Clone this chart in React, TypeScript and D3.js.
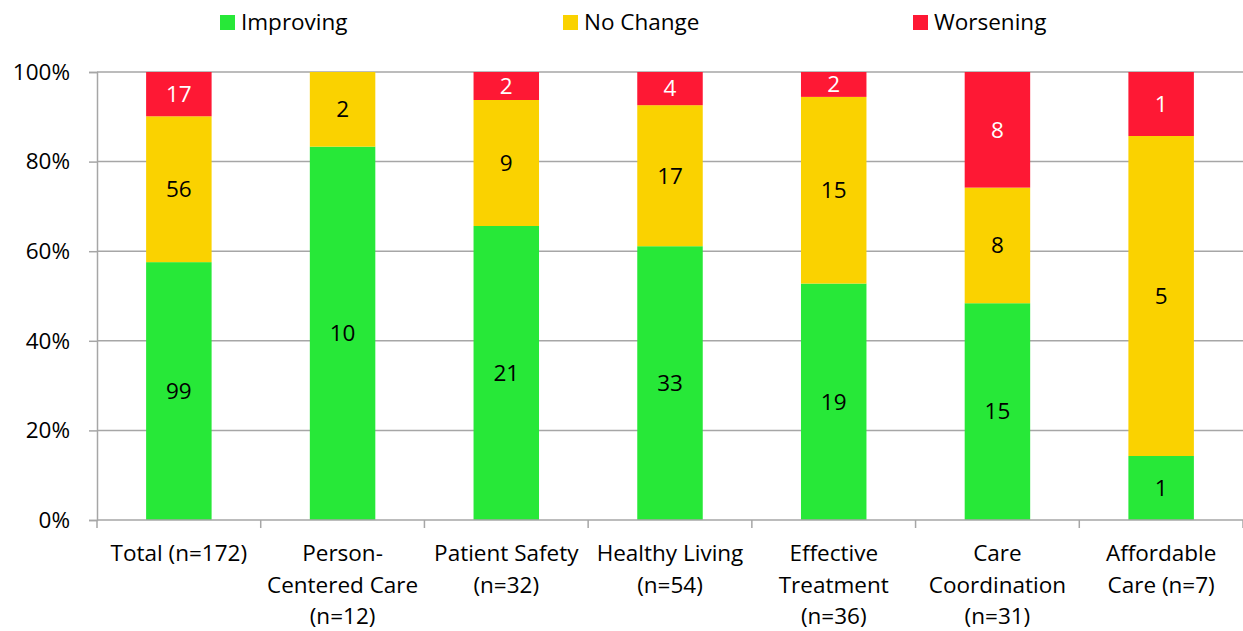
import React, { useEffect, useRef } from "react";
import * as d3 from "d3";

const categories = [
  "Total (n=172)",
  "Person-|Centered Care|(n=12)",
  "Patient Safety|(n=32)",
  "Healthy Living|(n=54)",
  "Effective|Treatment|(n=36)",
  "Care|Coordination|(n=31)",
  "Affordable|Care (n=7)",
];
const improving = [99, 10, 21, 33, 19, 15, 1];
const noChange = [56, 2, 9, 17, 15, 8, 5];
const worsening = [17, 0, 2, 4, 2, 8, 1];
const seriesNames = ["Improving", "No Change", "Worsening"];
const yTicks = [0, 0.2, 0.4, 0.6, 0.8, 1];

const colors = ["#27E838", "#FAD200", "#FE1834"];
const labelColors = ["#000", "#000", "#fff"];
const FONT = "'Open Sans', sans-serif";
const FS = 22.5;

export default function App() {
  const ref = useRef<SVGSVGElement>(null);

  useEffect(() => {
    const width = 1243;
    const height = 631;
    const margin = { top: 72, right: 0, bottom: 111, left: 97 };
    const innerHeight = height - margin.top - margin.bottom;

    const svg = d3.select(ref.current);
    svg.selectAll("*").remove();

    const rows = categories.map((c, i) => ({
      cat: c,
      Improving: improving[i],
      "No Change": noChange[i],
      Worsening: worsening[i],
    }));
    const stacked = d3.stack<any>().keys(seriesNames).offset(d3.stackOffsetExpand)(rows);

    const x = d3
      .scaleBand()
      .domain(categories)
      .range([margin.left, width - margin.right])
      .paddingInner(0.6)
      .paddingOuter(0.3);
    const y = d3.scaleLinear().domain([0, 1]).range([margin.top + innerHeight, margin.top]);

    // gridlines
    svg
      .append("g")
      .selectAll("line")
      .data(yTicks.slice(1))
      .join("line")
      .attr("x1", margin.left)
      .attr("x2", width)
      .attr("y1", (d) => y(d))
      .attr("y2", (d) => y(d))
      .attr("stroke", "#A6A6A6")
      .attr("stroke-width", 1.5);

    // bars
    const groups = svg
      .append("g")
      .selectAll("g")
      .data(stacked)
      .join("g")
      .attr("fill", (_, i) => colors[i]);

    groups
      .selectAll("rect")
      .data((s) => s)
      .join("rect")
      .attr("x", (d: any) => x(d.data.cat)!)
      .attr("width", x.bandwidth())
      .attr("y", (d) => y(d[1]))
      .attr("height", (d) => y(d[0]) - y(d[1]));

    // data labels
    stacked.forEach((s, si) => {
      svg
        .append("g")
        .selectAll("text")
        .data(s.filter((d: any) => d.data[s.key] > 0))
        .join("text")
        .attr("x", (d: any) => x(d.data.cat)! + x.bandwidth() / 2)
        .attr("y", (d) => (y(d[0]) + y(d[1])) / 2)
        .attr("dy", "0.35em")
        .attr("text-anchor", "middle")
        .attr("font-family", FONT)
        .attr("font-size", FS)
        .attr("fill", labelColors[si])
        .text((d: any) => d.data[s.key]);
    });

    // y axis
    const yAxis = svg
      .append("g")
      .attr("transform", `translate(${margin.left},0)`)
      .call(
        d3
          .axisLeft(y)
          .tickValues(yTicks)
          .tickFormat(d3.format(".0%"))
          .tickSize(8)
          .tickPadding(19)
      );
    yAxis.select(".domain").attr("stroke", "#A6A6A6").attr("stroke-width", 1.5);
    yAxis.selectAll(".tick line").attr("stroke", "#A6A6A6").attr("stroke-width", 1.5);
    yAxis
      .selectAll(".tick text")
      .attr("font-family", FONT)
      .attr("font-size", FS)
      .attr("fill", "#000");

    // x axis
    const baseY = margin.top + innerHeight;
    svg
      .append("line")
      .attr("x1", margin.left)
      .attr("x2", width)
      .attr("y1", baseY)
      .attr("y2", baseY)
      .attr("stroke", "#A6A6A6")
      .attr("stroke-width", 1.5);

    const x0 = margin.left;
    const band = (width - margin.left) / categories.length;
    svg
      .append("g")
      .selectAll("line")
      .data(d3.range(categories.length + 1))
      .join("line")
      .attr("x1", (i) => x0 + i * band)
      .attr("x2", (i) => x0 + i * band)
      .attr("y1", baseY)
      .attr("y2", baseY + 8)
      .attr("stroke", "#A6A6A6")
      .attr("stroke-width", 1.5);

    const catLabels = svg
      .append("g")
      .selectAll("text")
      .data(categories)
      .join("text")
      .attr("text-anchor", "middle")
      .attr("font-family", FONT)
      .attr("font-size", FS)
      .attr("fill", "#000");
    catLabels.each(function (c) {
      const t = d3.select(this);
      c.split("|").forEach((line, li) => {
        t.append("tspan")
          .attr("x", x(c)! + x.bandwidth() / 2)
          .attr("y", baseY + 41 + li * 31.5)
          .text(line);
      });
    });

    // legend
    const legendX = [220, 563, 913];
    const legend = svg
      .append("g")
      .selectAll("g")
      .data(seriesNames)
      .join("g")
      .attr("transform", (_, i) => `translate(${legendX[i]},15)`);
    legend
      .append("rect")
      .attr("width", 15)
      .attr("height", 15)
      .attr("fill", (_, i) => colors[i]);
    legend
      .append("text")
      .attr("x", 21)
      .attr("y", 15)
      .attr("font-family", FONT)
      .attr("font-size", FS)
      .attr("fill", "#000")
      .text((d) => d);
  }, []);

  return (
    <svg
      ref={ref}
      width={1243}
      height={631}
      style={{ position: "absolute", left: 0, top: 0, background: "#fff" }}
    />
  );
}
